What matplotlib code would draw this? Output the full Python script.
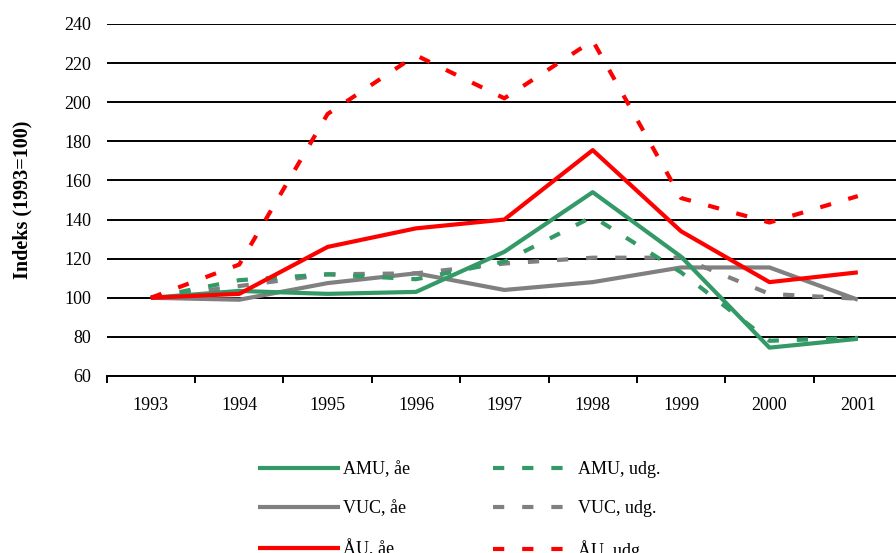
import matplotlib
matplotlib.use("Agg")
import matplotlib.pyplot as plt

years = ["1993", "1994", "1995", "1996", "1997", "1998", "1999", "2000", "2001"]
amu_ae = [100, 103.5, 102, 103, 123.5, 154, 121, 74.5, 79]
amu_udg = [100, 109, 112, 109.5, 118.5, 141.5, 113, 78, 79.5]
vuc_ae = [100, 99, 107.5, 112.5, 104, 108, 115.5, 115.5, 99]
vuc_udg = [100, 106, 112, 112.5, 117.5, 120.5, 120.5, 102, 99.5]
au_ae = [100, 102, 126, 135.5, 140, 175.5, 134, 108, 113]
au_udg = [100, 117, 194, 224, 202, 231.5, 151, 138.5, 152]
yticks = [60, 80, 100, 120, 140, 160, 180, 200, 220, 240]

green = "#339966"
gray = "#808080"
red = "#FF0000"

plt.rcParams["font.family"] = ["Liberation Serif", "DejaVu Serif"]
fig = plt.figure(figsize=(8.96, 5.53), dpi=100)
W, H = 896, 553
left, right, top, bottom = 106.7, 902, 24, 376
ax = fig.add_axes([left / W, (H - bottom) / H, (right - left) / W, (bottom - top) / H])

x = list(range(len(years)))
lw = 3.0
dash = (0, (2.7, 4.3))
series = [
    (amu_ae, green, "-", "AMU, åe"),
    (vuc_ae, gray, "-", "VUC, åe"),
    (au_ae, red, "-", "ÅU, åe"),
    (amu_udg, green, dash, "AMU, udg."),
    (vuc_udg, gray, dash, "VUC, udg."),
    (au_udg, red, dash, "ÅU, udg."),
]
draw_order = [4, 1, 3, 0, 2, 5]
handles = [None] * 6
for i in draw_order:
    vals, c, ls, lab = series[i]
    (h,) = ax.plot(x, vals, color=c, linestyle=ls, linewidth=lw, label=lab,
                   solid_capstyle="butt", dash_capstyle="butt", zorder=3)
    handles[i] = h

ax.set_xlim(-0.5, 8.5)
ax.set_ylim(60, 240)
ax.set_yticks(yticks)
ax.yaxis.grid(True, color="black", linewidth=1.4)
ax.set_axisbelow(True)
ax.tick_params(axis="y", length=0, pad=11, labelsize=13)
for s in ["top", "right", "left"]:
    ax.spines[s].set_visible(False)
ax.spines["bottom"].set_linewidth(1.4)

ax.set_xticks([i - 0.5 for i in range(len(years) + 1)])
ax.set_xticklabels([])
ax.tick_params(axis="x", which="major", length=5, width=1.4, direction="out")
ax.set_xticks(x, minor=True)
ax.set_xticklabels(years, minor=True)
ax.tick_params(axis="x", which="minor", length=0, pad=15, labelsize=13)

ax.set_ylabel("Indeks (1993=100)", fontsize=14.5, fontweight="bold")
ax.yaxis.set_label_coords(-0.093, 0.5)

fig.legend(handles=handles, labels=[s[3] for s in series], ncol=2,
           loc="upper left", bbox_to_anchor=(258 / W, 1 - 461 / H),
           frameon=False, fontsize=13, handlelength=4.55, handletextpad=0.15,
           columnspacing=4.6, labelspacing=1.24, borderaxespad=0, borderpad=0)

fig.savefig("out.png", dpi=100)
